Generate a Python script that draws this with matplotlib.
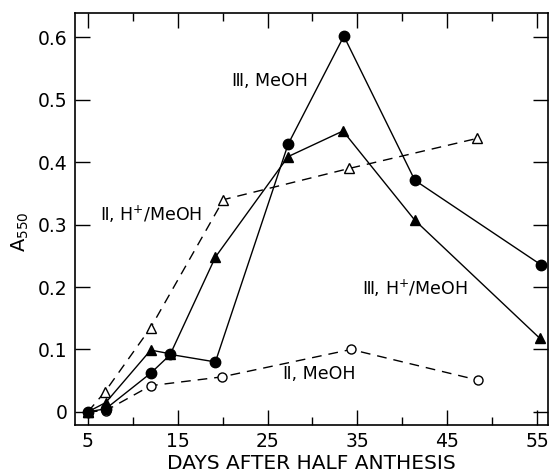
import matplotlib
matplotlib.use("Agg")
import matplotlib.pyplot as plt
from matplotlib.ticker import FixedLocator

# III, MeOH (filled circles, solid)
x_III_meoh = [5, 7, 12, 14.2, 19.2, 27.3, 33.5, 41.4, 55.4]
y_III_meoh = [0.0, 0.005, 0.062, 0.092, 0.080, 0.429, 0.602, 0.371, 0.236]
# III, H+/MeOH (filled triangles, solid)
x_III_h = [5, 7, 12, 14.2, 19.2, 27.3, 33.4, 41.4, 55.3]
y_III_h = [0.0, 0.015, 0.099, 0.093, 0.248, 0.409, 0.450, 0.307, 0.118]
# II, H+/MeOH (open triangles, dashed)
x_II_h = [5, 6.9, 12, 20.1, 34.1, 48.3]
y_II_h = [0.0, 0.032, 0.135, 0.340, 0.390, 0.438]
# II, MeOH (open circles, dashed)
x_II_meoh = [5, 7, 12, 19.9, 34.3, 48.4]
y_II_meoh = [0.0, 0.002, 0.042, 0.056, 0.100, 0.051]

xticks = [5, 15, 25, 35, 45, 55]
yticks = [0, 0.1, 0.2, 0.3, 0.4, 0.5, 0.6]
ytick_labels = ["0", "0.1", "0.2", "0.3", "0.4", "0.5", "0.6"]

fig = plt.figure(figsize=(5.5, 4.73), dpi=100)
ax = fig.add_axes([0.136, 0.1015, 0.86, 0.871])

lw = 1.0
ax.plot(x_II_h, y_II_h, '--', color='black', lw=lw, dashes=(7, 5),
        marker='^', markersize=7.5, markerfacecolor='white', markeredgecolor='black', zorder=2)
ax.plot(x_II_meoh, y_II_meoh, '--', color='black', lw=lw, dashes=(7, 5),
        marker='o', markersize=6.5, markerfacecolor='white', markeredgecolor='black', zorder=2)
ax.plot(x_III_h, y_III_h, '-', color='black', lw=lw,
        marker='^', markersize=7.5, markerfacecolor='black', markeredgecolor='black', zorder=3)
ax.plot(x_III_meoh, y_III_meoh, '-', color='black', lw=lw,
        marker='o', markersize=7.5, markerfacecolor='black', markeredgecolor='black', zorder=4)

ax.set_xlim(3.55, 56.2)
ax.set_ylim(-0.021, 0.639)
ax.xaxis.set_major_locator(FixedLocator(xticks))
ax.xaxis.set_minor_locator(FixedLocator([10, 20, 30, 40, 50]))
ax.set_xticklabels([str(t) for t in xticks])
ax.yaxis.set_major_locator(FixedLocator(yticks))
ax.set_yticklabels(ytick_labels)

ax.tick_params(which='major', direction='in', length=11, width=1.0,
               top=True, right=True, labelsize=13.5, pad=5)
ax.tick_params(which='minor', direction='in', length=6, width=1.0, top=True, right=False)
for s in ax.spines.values():
    s.set_linewidth(1.2)

ax.set_xlabel("DAYS AFTER HALF ANTHESIS", fontsize=14.5, labelpad=2)
ax.set_ylabel(r"A$_{550}$", fontsize=14, labelpad=4)
ax.yaxis.set_label_coords(-0.092, 0.47)

fs = 12.5
ax.text(21.1, 0.530, "Ⅲ, MeOH", fontsize=fs, ha='left', va='center')
ax.text(6.3, 0.317, "Ⅱ, H$^{+}$/MeOH", fontsize=fs, ha='left', va='center')
ax.text(35.5, 0.198, "Ⅲ, H$^{+}$/MeOH", fontsize=fs, ha='left', va='center')
ax.text(26.7, 0.060, "Ⅱ, MeOH", fontsize=fs, ha='left', va='center')

fig.savefig("out.png", dpi=100)
